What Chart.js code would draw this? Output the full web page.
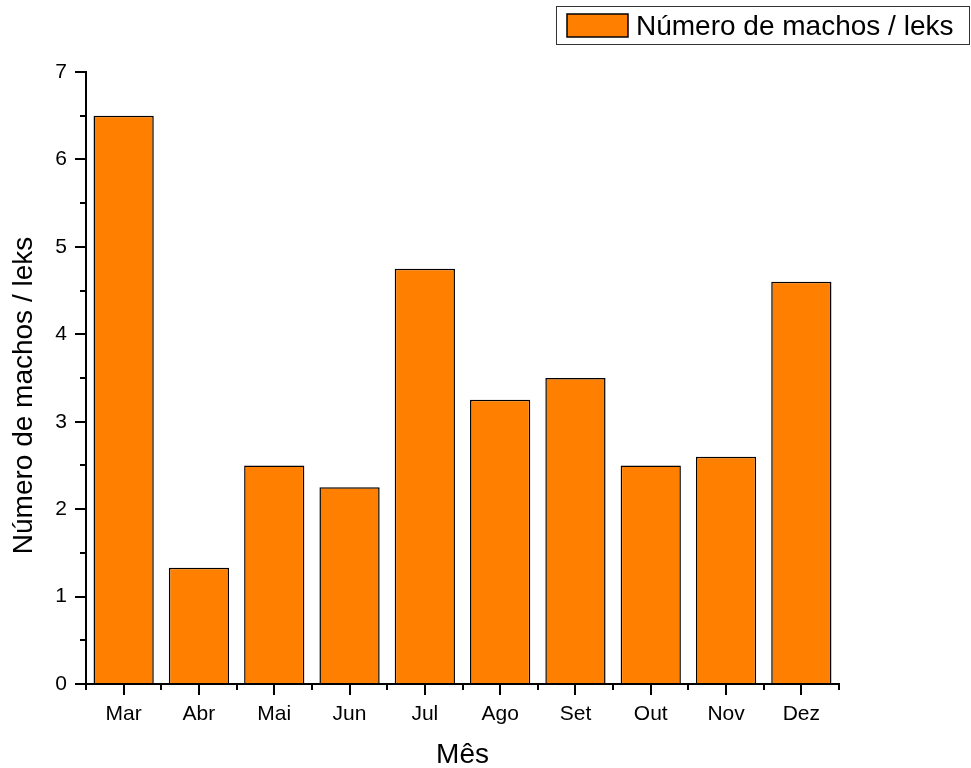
<!DOCTYPE html>
<html>
<head>
<meta charset="utf-8">
<script src="https://cdn.jsdelivr.net/npm/chart.js@4/dist/chart.umd.min.js"></script>
<style>
    html, body { margin: 0; padding: 0; background: #fff; }
    #wrap { width: 971px; height: 768px; }
</style>
</head>
<body>
<div id="wrap"><canvas id="myChart" width="971" height="768"></canvas></div>
<script>
var meses = ['Mar', 'Abr', 'Mai', 'Jun', 'Jul', 'Ago', 'Set', 'Out', 'Nov', 'Dez'];
var machosLeks = [6.5, 1.33, 2.5, 2.25, 4.75, 3.25, 3.5, 2.5, 2.6, 4.6];
var yTicks = [0, 1, 2, 3, 4, 5, 6, 7];
var serieNome = 'Número de machos / leks';

var fonte = '"Liberation Sans", Arial, sans-serif';

// minor ticks, y title and legend box drawn over the chart
const extras = {
    id: 'extras',
    afterDraw(chart) {
        const { ctx, scales } = chart;
        const xs = scales.x, ys = scales.y;
        ctx.save();
        ctx.strokeStyle = '#000';
        ctx.lineWidth = 2;
        // y minor ticks at halves
        for (var v = 0.5; v < 7; v += 1) {
            var py = Math.round(ys.getPixelForValue(v));
            ctx.beginPath();
            ctx.moveTo(ys.right - 6, py);
            ctx.lineTo(ys.right, py);
            ctx.stroke();
        }
        // x minor ticks at category boundaries
        for (var i = 0; i <= meses.length; i++) {
            var px = Math.round(xs.getPixelForValue(i - 0.5));
            ctx.beginPath();
            ctx.moveTo(px, xs.top);
            ctx.lineTo(px, xs.top + 6);
            ctx.stroke();
        }
        // y title (sits a bit below the axis middle in the original)
        ctx.fillStyle = '#000';
        ctx.font = '28px ' + fonte;
        ctx.textAlign = 'center';
        ctx.textBaseline = 'middle';
        ctx.translate(24, ys.getPixelForValue(3.3));
        ctx.rotate(-Math.PI / 2);
        ctx.fillText(serieNome, 0, 0);
        ctx.setTransform(1, 0, 0, 1, 0, 0);
        // legend
        var ds = chart.data.datasets[0];
        ctx.lineWidth = 1;
        ctx.strokeStyle = '#333';
        ctx.strokeRect(556.5, 6.5, 413, 38);
        ctx.fillStyle = ds.backgroundColor;
        ctx.fillRect(567, 14, 61, 23);
        ctx.strokeStyle = '#000';
        ctx.lineWidth = 1.5;
        ctx.strokeRect(567, 14, 61, 23);
        ctx.fillStyle = '#000';
        ctx.font = '28px ' + fonte;
        ctx.textBaseline = 'middle';
        ctx.textAlign = 'left';
        ctx.fillText(ds.label, 636, 27);
        ctx.restore();
    }
};

const ctx = document.getElementById('myChart');
new Chart(ctx, {
    type: 'bar',
    data: {
        labels: meses,
        datasets: [{
            label: serieNome,
            data: machosLeks,
            backgroundColor: '#FF8000',
            borderColor: '#000',
            borderWidth: 1.5,
            barPercentage: 0.8,
            categoryPercentage: 1
        }]
    },
    options: {
        responsive: false,
        animation: false,
        layout: { padding: { top: 72, right: 132, left: 0, bottom: 0 } },
        plugins: {
            legend: { display: false },
            tooltip: { enabled: false }
        },
        scales: {
            x: {
                offset: true,
                grid: {
                    offset: false,
                    drawOnChartArea: false,
                    drawTicks: true,
                    tickLength: 11,
                    color: '#000',
                    lineWidth: 2
                },
                border: { display: true, color: '#000', width: 2 },
                ticks: {
                    color: '#000',
                    font: { family: fonte, size: 21 },
                    padding: 7,
                    maxRotation: 0
                },
                title: {
                    display: true,
                    text: 'Mês',
                    color: '#000',
                    font: { family: fonte, size: 28, lineHeight: 0.6 }
                },
                afterFit: function (scale) { scale.height = 84; }
            },
            y: {
                min: 0,
                max: 7,
                afterBuildTicks: function (scale) {
                    scale.ticks = yTicks.map(function (v) { return { value: v }; });
                },
                grid: {
                    drawOnChartArea: false,
                    drawTicks: true,
                    tickLength: 11,
                    color: '#000',
                    lineWidth: 2
                },
                border: { display: true, color: '#000', width: 2 },
                ticks: {
                    color: '#000',
                    font: { family: fonte, size: 21 },
                    padding: 8
                },
                afterFit: function (scale) { scale.width = 86; }
            }
        }
    },
    plugins: [extras]
});
</script>
</body>
</html>
